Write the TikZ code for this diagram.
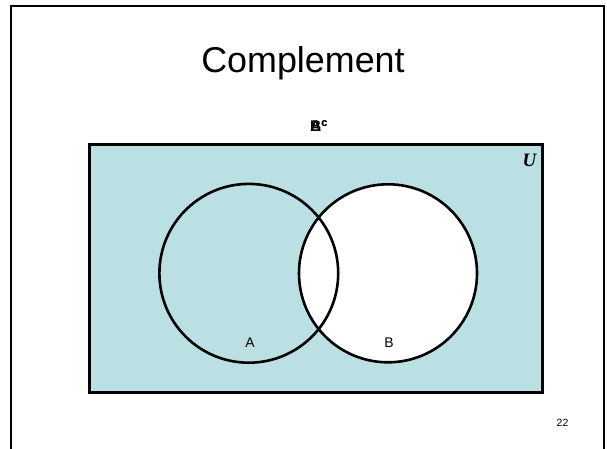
\documentclass[tikz,border=0pt]{standalone}
\usepackage{fontspec}
\setmainfont{Liberation Sans}
\newfontfamily\serifU{Liberation Serif}
\definecolor{venncyan}{RGB}{187,224,227}
\begin{document}
\begin{tikzpicture}[x=1bp,y=-1bp,
  frameline/.style={line width=2bp,black},
  setcircle/.style={line width=2.6bp,black},
  unibox/.style={line width=3bp,black},
  setlabel/.style={font=\fontsize{14}{14}\selectfont,inner sep=0pt},
  complabel/.style={font=\fontsize{15.5}{15.5}\selectfont\bfseries,inner sep=0pt,anchor=base west}]
\useasboundingbox (0,0) rectangle (607,449);
% slide frame
\draw[frameline] (11,449) -- (11,6) -- (604,6) -- (604,449);
% title
\node[font=\fontsize{36}{36}\selectfont,anchor=base,inner sep=0pt] (title) at (303,72.5) {Complement};
% universe
\fill[venncyan] (89.5,144.5) rectangle (542.5,392.5);
\fill[white] (388,273.3) circle (89);
\draw[setcircle] (248.8,273.3) circle (89.4);
\draw[setcircle] (388,273.3) circle (89);
\draw[unibox] (89.5,144.5) rectangle (542.5,392.5);
\node[complabel] (Ac) at (310,131.5) {A\textsuperscript{c}};
\node[complabel] (Bc) at (310,131.5) {B\textsuperscript{c}};
\node[font=\serifU\bfseries\itshape\fontsize{19}{19}\selectfont,inner sep=0pt] (U) at (529.5,160.5) {U};
\node[setlabel] (A) at (250,343) {A};
\node[setlabel] (B) at (389,343) {B};
\node[font=\fontsize{10.5}{10.5}\selectfont,inner sep=0pt] (pg) at (562.5,423) {22};
\end{tikzpicture}
\end{document}
